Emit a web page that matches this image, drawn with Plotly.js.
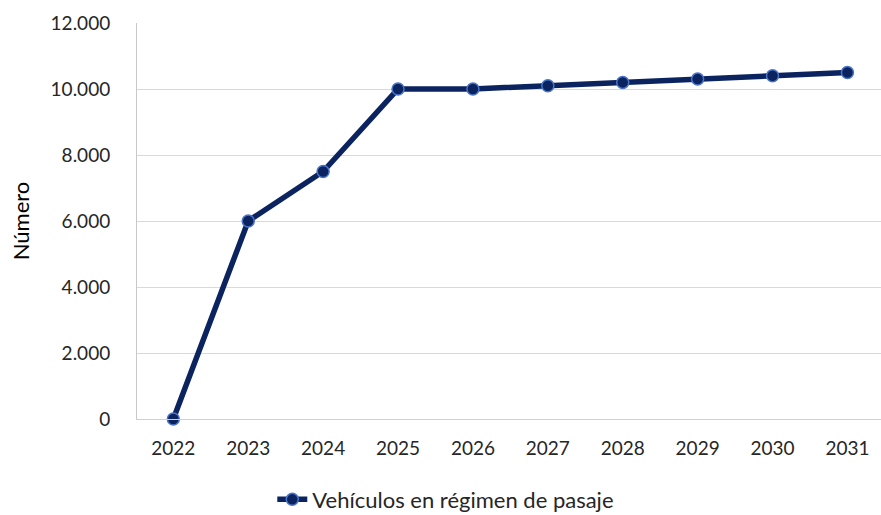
<!DOCTYPE html>
<html>
<head>
<meta charset="utf-8">
<script src="https://cdn.plot.ly/plotly-3.0.1.min.js"></script>
<style>html,body{margin:0;padding:0;background:#fff;}#chart{width:881px;height:515px;}</style>
</head>
<body>
<div id="chart"></div>
<script>
const years = ["2022","2023","2024","2025","2026","2027","2028","2029","2030","2031"];
const vehiculos = [0, 6000, 7500, 10000, 10000, 10100, 10200, 10300, 10400, 10500];
const seriesName = "Vehículos en régimen de pasaje";
const yTicks = [0, 2000, 4000, 6000, 8000, 10000, 12000];

const trace = {
  x: years, y: vehiculos, name: seriesName, type: "scatter", mode: "lines+markers",
  line: {color: "#0b2460", width: 5.5},
  marker: {color: "#0b2460", size: 12, line: {color: "#4a74c9", width: 1.5}},
  cliponaxis: false
};
const font = {family: "Lato, 'Open Sans', sans-serif", size: 19, color: "#262626"};
const layout = {
  width: 881, height: 515,
  margin: {l: 137, r: 0, t: 23, b: 96},
  paper_bgcolor: "#ffffff", plot_bgcolor: "#ffffff",
  separators: ",.",
  font: font,
  showlegend: true,
  legend: {orientation: "h", xref: "container", yref: "container", x: 0.506, xanchor: "center", y: 0.03, yanchor: "middle",
    font: {family: "Lato, 'Open Sans', sans-serif", size: 22, color: "#262626"}},
  xaxis: {type: "category", range: [-0.485, 9.448], showgrid: false, zeroline: false,
    showline: true, linecolor: "#d0d0d0", linewidth: 1, ticks: "", ticklabelstandoff: 12, tickfont: font},
  yaxis: {range: [0, 12000], tickvals: yTicks, tickformat: ",d", showgrid: true, gridcolor: "#d9d9d9", gridwidth: 1,
    zeroline: false, showline: true, linecolor: "#c8c8c8", linewidth: 1, ticks: "", ticklabelstandoff: 22, tickfont: font,
    title: {text: "Número", font: {family: "Lato, 'Open Sans', sans-serif", size: 22, color: "#000"}, standoff: 14}}
};
Plotly.newPlot("chart", [trace], layout, {displayModeBar: false, staticPlot: true});
</script>
</body>
</html>
